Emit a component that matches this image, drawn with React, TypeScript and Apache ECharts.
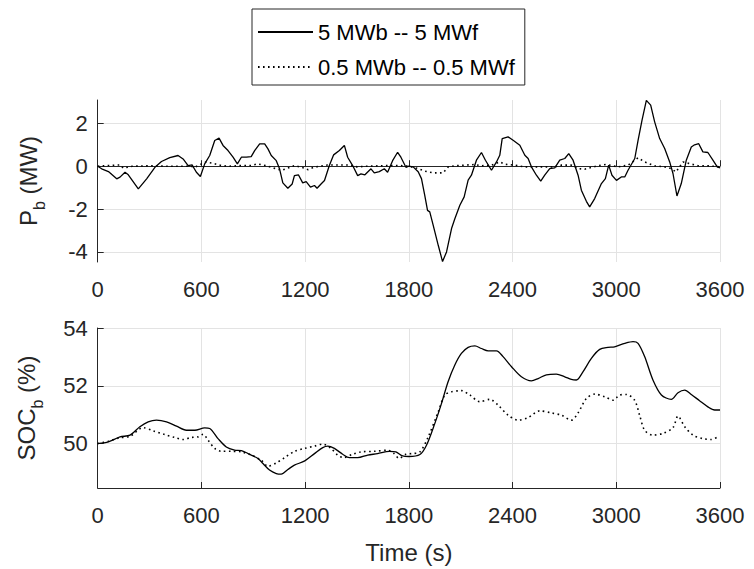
import React, { useEffect, useRef } from "react";
import * as echarts from "echarts";

// ---- Data: top panel, battery power P_b (MW) ----
const pbTimeA = [0, 23, 62, 110, 129, 158, 177, 235, 283, 331, 369, 417, 465, 494, 523, 546, 571, 594, 619, 648, 677, 702, 725, 754, 783, 808, 831, 860, 888, 908, 937, 966, 985, 1004, 1033, 1052, 1071, 1100, 1125, 1138, 1161, 1186, 1206, 1231, 1254, 1269, 1292, 1312, 1340, 1365, 1398, 1427, 1446, 1475, 1504, 1523, 1546, 1581, 1600, 1629, 1658, 1677, 1706, 1735, 1754, 1783, 1800, 1825, 1854, 1873, 1892, 1908, 1921, 1941, 1970, 1995, 2018, 2047, 2066, 2095, 2120, 2143, 2162, 2191, 2220, 2243, 2278, 2307, 2326, 2340, 2374, 2403, 2442, 2471, 2490, 2509, 2538, 2563, 2586, 2615, 2644, 2673, 2702, 2725, 2750, 2779, 2798, 2827, 2846, 2875, 2914, 2937, 2956, 2975, 3001, 3029, 3049, 3068, 3107, 3126, 3149, 3174, 3199, 3222, 3251, 3280, 3309, 3328, 3351, 3376, 3405, 3434, 3453, 3477, 3501, 3530, 3559, 3584, 3600];
const pbValA = [0, -0.12, -0.25, -0.59, -0.51, -0.28, -0.4, -1.06, -0.59, -0.05, 0.22, 0.4, 0.5, 0.34, 0.03, 0.06, -0.28, -0.48, 0.11, 0.5, 1.2, 1.31, 0.97, 0.73, 0.42, 0.11, 0.42, 0.42, 0.45, 0.73, 1.04, 1.04, 0.81, 0.5, 0.26, -0.12, -0.78, -1.03, -0.83, -0.44, -0.4, -0.78, -0.72, -0.98, -0.9, -1.03, -0.83, -0.67, 0.03, 0.53, 0.73, 0.97, 0.42, 0.03, -0.44, -0.36, -0.4, -0.12, -0.31, -0.25, -0.12, -0.28, 0.26, 0.65, 0.42, -0.05, 0, -0.03, -0.26, -0.58, -1.36, -2.06, -2.13, -2.76, -3.69, -4.45, -4.0, -2.91, -2.45, -1.82, -1.43, -0.65, -0.42, 0.28, 0.64, 0.28, -0.19, 0.2, 0.51, 1.29, 1.37, 1.21, 0.98, 0.51, 0.36, -0.03, -0.42, -0.7, -0.42, -0.11, -0.08, 0.28, 0.36, 0.59, 0.28, -0.42, -1.12, -1.64, -1.9, -1.51, -0.81, -0.58, 0.05, -0.42, -0.66, -0.5, -0.5, -0.19, 0.36, 1.21, 2.15, 3.07, 2.85, 2.07, 1.29, 0.83, 0.2, -0.34, -1.39, -0.81, 0.28, 0.9, 1.0, 1.05, 0.67, 0.64, 0.28, -0.03, -0.08];

const pbTimeB = [0, 60, 129, 148, 200, 300, 400, 540, 560, 600, 625, 660, 715, 760, 830, 890, 925, 970, 1020, 1065, 1090, 1140, 1200, 1215, 1250, 1330, 1450, 1500, 1560, 1680, 1750, 1800, 1854, 1892, 1941, 1998, 2028, 2066, 2124, 2182, 2220, 2278, 2326, 2355, 2412, 2470, 2547, 2644, 2683, 2740, 2779, 2817, 2894, 2941, 3010, 3068, 3126, 3164, 3222, 3280, 3318, 3345, 3386, 3424, 3472, 3530, 3600];
const pbValB = [0, 0.03, 0.06, -0.09, 0, 0.02, 0, 0, -0.05, 0.1, 0.19, 0.15, 0.03, 0, 0.03, 0.03, 0.11, 0.03, -0.09, -0.19, -0.12, 0.03, -0.1, -0.16, -0.05, 0.06, 0.06, -0.03, 0, 0.03, 0.03, 0, -0.11, -0.23, -0.31, -0.31, -0.03, 0.02, 0.05, 0.08, 0.02, 0.05, 0.2, 0.09, 0.05, -0.03, -0.03, -0.03, 0.05, 0.05, -0.11, -0.14, 0.02, 0.08, -0.03, 0.05, 0.39, 0.2, 0.02, -0.03, -0.11, -0.27, 0.2, 0.12, 0.02, 0.02, -0.03];

// ---- Data: bottom panel, state of charge SOC_b (%) ----
const socTimeA = [0, 62, 129, 187, 244, 292, 340, 398, 456, 513, 562, 619, 648, 696, 744, 792, 831, 888, 927, 956, 994, 1033, 1062, 1100, 1138, 1198, 1254, 1302, 1331, 1369, 1417, 1456, 1504, 1562, 1619, 1687, 1725, 1764, 1800, 1864, 1902, 1950, 1989, 2027, 2066, 2104, 2143, 2182, 2220, 2259, 2307, 2345, 2394, 2451, 2509, 2548, 2596, 2653, 2702, 2740, 2769, 2808, 2856, 2904, 2952, 2990, 3049, 3097, 3126, 3164, 3212, 3261, 3318, 3357, 3396, 3434, 3482, 3530, 3569, 3600];
const socValA = [50.0, 50.06, 50.23, 50.29, 50.58, 50.75, 50.81, 50.75, 50.6, 50.46, 50.46, 50.54, 50.52, 50.17, 49.88, 49.77, 49.75, 49.6, 49.48, 49.31, 49.08, 48.96, 48.94, 49.1, 49.25, 49.4, 49.65, 49.86, 49.91, 49.83, 49.63, 49.51, 49.51, 49.6, 49.65, 49.73, 49.71, 49.57, 49.55, 49.62, 49.94, 50.69, 51.39, 52.14, 52.72, 53.12, 53.33, 53.38, 53.29, 53.21, 53.21, 53.01, 52.66, 52.31, 52.17, 52.25, 52.38, 52.4, 52.31, 52.22, 52.2, 52.49, 52.95, 53.26, 53.33, 53.35, 53.47, 53.53, 53.47, 53.01, 52.2, 51.68, 51.53, 51.76, 51.85, 51.7, 51.48, 51.27, 51.16, 51.16];

const socTimeB = [0, 62, 129, 187, 263, 321, 388, 446, 494, 542, 581, 610, 638, 677, 715, 773, 831, 888, 946, 985, 1033, 1081, 1138, 1196, 1254, 1302, 1350, 1388, 1423, 1475, 1523, 1600, 1677, 1715, 1744, 1783, 1815, 1864, 1912, 1970, 2008, 2047, 2104, 2153, 2210, 2268, 2316, 2374, 2432, 2490, 2557, 2625, 2683, 2740, 2779, 2827, 2875, 2933, 2981, 3020, 3058, 3106, 3135, 3164, 3212, 3270, 3328, 3357, 3396, 3444, 3501, 3549, 3588];
const socValB = [50, 50.08, 50.2, 50.25, 50.55, 50.44, 50.31, 50.21, 50.14, 50.21, 50.23, 50.32, 50.12, 49.83, 49.73, 49.73, 49.71, 49.6, 49.42, 49.21, 49.33, 49.51, 49.73, 49.83, 49.91, 49.98, 49.83, 49.6, 49.51, 49.63, 49.71, 49.73, 49.77, 49.65, 49.48, 49.63, 49.65, 49.71, 50.23, 51.1, 51.68, 51.79, 51.83, 51.68, 51.45, 51.53, 51.33, 50.98, 50.81, 50.9, 51.13, 51.06, 50.98, 50.81, 51.06, 51.56, 51.71, 51.62, 51.5, 51.68, 51.7, 51.5, 50.98, 50.46, 50.29, 50.35, 50.55, 50.95, 50.58, 50.29, 50.17, 50.14, 50.23];

const seriesNames = ["5 MWb -- 5 MWf", "0.5 MWb -- 0.5 MWf"];
const pbTicks = [-4, -2, 0, 2];
const socTicks = [50, 52, 54];
const timeTicks = [0, 600, 1200, 1800, 2400, 3000, 3600];
const xLabel = "Time (s)";

const FONT = "'Liberation Sans', Arial, Helvetica, sans-serif";
const AX = "#262626";
const GRID = "#e3e3e3";
const FS = 22;
const LFS = 24;

const pairs = (t: number[], v: number[]) => t.map((x, i) => [x, v[i]]);
const plain = (v: number) => String(v);

function App() {
  const ref = useRef<HTMLDivElement>(null);
  useEffect(() => {
    if (!ref.current) return;
    const chart = echarts.init(ref.current, undefined, { renderer: "svg" });
    const xAxisBase = (gridIndex: number, name?: string) => ({
      type: "value",
      gridIndex,
      min: 0,
      max: 3600,
      interval: 600,
      name,
      nameLocation: "middle",
      nameGap: 52,
      nameTextStyle: { fontSize: LFS, color: AX, fontFamily: FONT },
      axisLine: { show: true, lineStyle: { color: AX, width: 1 } },
      axisTick: { show: true, inside: true, length: 6, lineStyle: { color: AX } },
      axisLabel: { fontSize: FS, color: AX, fontFamily: FONT, margin: 16, formatter: plain, customValues: timeTicks },
      splitLine: { show: true, lineStyle: { color: GRID, width: 1 } },
    });
    const richName = {
      n: { fontSize: LFS, color: AX, fontFamily: FONT, verticalAlign: "top", lineHeight: 26 },
      s: { fontSize: 16, color: AX, fontFamily: FONT, verticalAlign: "bottom", lineHeight: 17 },
      g: { fontSize: LFS, color: AX, fontFamily: FONT, verticalAlign: "top", lineHeight: 31 },
    };
    const yAxisBase = (gridIndex: number, min: number, max: number, ticks: number[], name: string, gap: number) => ({
      type: "value",
      gridIndex,
      min,
      max,
      name,
      nameLocation: "middle",
      nameRotate: 90,
      nameGap: gap,
      nameTextStyle: { rich: richName },
      axisLine: { show: true, lineStyle: { color: AX, width: 1 } },
      axisTick: { show: true, inside: true, length: 6, lineStyle: { color: AX }, customValues: ticks },
      axisLabel: { fontSize: FS, color: AX, fontFamily: FONT, margin: 10, formatter: plain, customValues: ticks },
      splitLine: { show: true, lineStyle: { color: GRID, width: 1 } },
    });
    const solid = { color: "#000", width: 1.3, type: "solid" };
    const dotted = { color: "#000", width: 1.6, type: [1.6, 3.4] };
    chart.setOption({
      animation: false,
      backgroundColor: "#fff",
      legend: {
        orient: "vertical",
        left: 252,
        top: 9,
        itemWidth: 55,
        itemHeight: 14,
        itemGap: 11,
        padding: [11, 10, 6, 5],
        borderColor: AX,
        borderWidth: 1,
        borderRadius: 0,
        itemStyle: { opacity: 0 },
        textStyle: { fontSize: FS, color: "#000", fontFamily: FONT, lineHeight: 24 },
        data: seriesNames,
      },
      grid: [
        { left: 97.7, top: 100, width: 622.3, height: 162 },
        { left: 97.7, top: 328, width: 622.3, height: 160 },
      ],
      xAxis: [xAxisBase(0), xAxisBase(1, xLabel)],
      yAxis: [
        yAxisBase(0, -4.47, 3.09, pbTicks, "{n|P}{s|b}{g| }{n|(MW)}", 50),
        yAxisBase(1, 48.46, 54, socTicks, "{n|SOC}{s|b}{g| }{n|(%)}", 52),
      ],
      series: [
        { name: seriesNames[0], type: "line", xAxisIndex: 0, yAxisIndex: 0, symbol: "none", lineStyle: solid, itemStyle: { color: "#000" }, data: pairs(pbTimeA, pbValA) },
        { name: seriesNames[1], type: "line", xAxisIndex: 0, yAxisIndex: 0, symbol: "none", lineStyle: dotted, itemStyle: { color: "#000" }, data: pairs(pbTimeB, pbValB) },
        { name: seriesNames[0], type: "line", xAxisIndex: 1, yAxisIndex: 1, symbol: "none", smooth: 0.3, lineStyle: solid, itemStyle: { color: "#000" }, data: pairs(socTimeA, socValA) },
        { name: seriesNames[1], type: "line", xAxisIndex: 1, yAxisIndex: 1, symbol: "none", smooth: 0.3, lineStyle: dotted, itemStyle: { color: "#000" }, data: pairs(socTimeB, socValB) },
      ],
    });
    return () => chart.dispose();
  }, []);
  return <div ref={ref} style={{ position: "fixed", left: 0, top: 0, width: 754, height: 569 }} />;
}

export default App;
